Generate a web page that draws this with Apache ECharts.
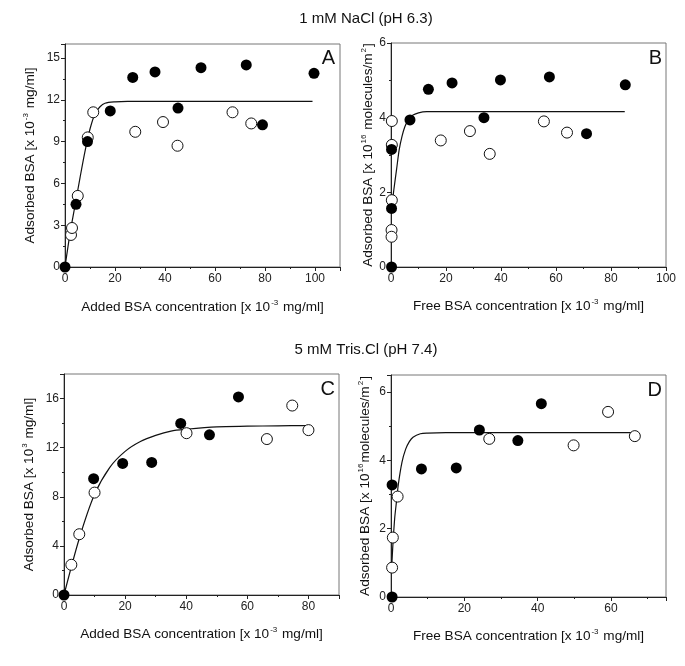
<!DOCTYPE html>
<html>
<head>
<meta charset="utf-8">
<script src="https://cdn.jsdelivr.net/npm/echarts@6/dist/echarts.min.js"></script>
<style>
html,body{margin:0;padding:0;background:#fff;}
#chart{width:685px;height:666px;}
</style>
</head>
<body>
<div id="chart"></div>
<script>
// ---- Panel A: 1 mM NaCl, adsorbed vs added BSA ----
const aFilled = [[0,0],[4.4,4.5],[9.0,9.0],[18.1,11.2],[27.1,13.6],[36.0,14.0],[45.2,11.4],[54.4,14.3],[72.5,14.5],[79,10.2],[99.6,13.9]];
const aOpen = [[2.4,2.3],[2.8,2.8],[5.1,5.1],[9.1,9.3],[11.3,11.1],[28.1,9.7],[39.2,10.4],[45.0,8.7],[67.0,11.1],[74.5,10.3]];
const aFit = [[0,0],[2,2.4],[4,4.4],[6,6.4],[8,8.3],[10,9.9],[12,11.0],[14,11.5],[16,11.75],[20,11.85],[25,11.88],[99,11.88]];
// ---- Panel B: 1 mM NaCl, adsorbed (molecules/m2) vs free BSA ----
const bFilled = [[0.2,0],[0.2,1.57],[0.2,3.15],[6.9,3.94],[13.6,4.76],[22.2,4.93],[33.8,4.0],[39.8,5.01],[57.6,5.09],[71.1,3.57],[85.2,4.88]];
const bOpen = [[0.3,3.91],[0.3,3.27],[0.3,1.79],[0.2,0.99],[0.2,0.81],[18.1,3.39],[28.7,3.64],[35.9,3.03],[55.6,3.9],[64.0,3.6]];
const bFit = [[0.5,1.75],[1,2.05],[2,2.6],[3,3.15],[4,3.5],[5,3.75],[6,3.9],[7,4.0],[8,4.07],[10,4.13],[13,4.16],[85,4.16]];
// ---- Panel C: 5 mM Tris.Cl, adsorbed vs added BSA ----
const cFilled = [[0,0],[9.7,9.47],[19.2,10.72],[28.7,10.8],[38.2,13.97],[47.6,13.05],[57.1,16.13]];
const cOpen = [[2.4,2.46],[5.0,4.95],[10.0,8.34],[40.1,13.18],[66.4,12.7],[74.7,15.43],[80.0,13.43]];
const cFit = [[0,0],[5,4.6],[10,8.2],[15,10.4],[20,11.7],[25,12.5],[30,13.0],[35,13.35],[40,13.5],[50,13.7],[60,13.75],[70,13.78],[80,13.8]];
// ---- Panel D: 5 mM Tris.Cl, adsorbed (molecules/m2) vs free BSA ----
const dFilled = [[0.3,0],[0.3,3.28],[8.3,3.75],[17.8,3.78],[24.1,4.89],[34.6,4.58],[41.0,5.66]];
const dOpen = [[0.3,0.86],[0.5,1.74],[1.8,2.94],[26.8,4.63],[49.8,4.44],[59.2,5.42],[66.5,4.71]];
const dFit = [[0.2,0.9],[0.5,1.5],[1,2.3],[1.5,2.8],[2,3.3],[3,3.95],[4,4.33],[5,4.55],[6,4.68],[8,4.78],[10,4.8],[15,4.81],[66.5,4.81]];

const titles = ['1 mM NaCl (pH 6.3)', '5 mM Tris.Cl (pH 7.4)'];
const panelLetters = ['A','B','C','D'];
const xNames = [['Added BSA concentration [x 10','-3',' mg/ml]'],['Free BSA concentration [x 10','-3',' mg/ml]'],['Added BSA concentration [x 10','-3',' mg/ml]'],['Free BSA concentration [x 10','-3',' mg/ml]']];
const yNames = [['Adsorbed BSA [x 10','-3',' mg/ml]'],['Adsorbed BSA [x 10','16',' molecules/m','2',']'],['Adsorbed BSA [x 10','3',' mg/ml]'],['Adsorbed BSA [x 10','16','molecules/m','2',']']];
const xRanges = [[0,110,20],[0,100,20],[0,90,20],[0,75,20]];
const yRanges = [[0,16,3],[0,6,2],[0,18,4],[0,6.5,2]];

const FONT = 'Liberation Sans, Arial, sans-serif';
const grids = [
  {left:65, top:44, width:275, height:223},
  {left:391, top:43, width:275, height:224},
  {left:64, top:374, width:275, height:221},
  {left:391, top:375, width:275, height:222}
];
const xNameGaps = [32, 31, 31, 31];
const yNameGaps = [27, 15, 27, 18];

function richName(parts){
  return parts.map((p,i)=> (i%2===0 ? '{n|'+p+'}' : '{s|'+p+'}')).join('');
}
const richStyle = {
  n:{fontSize:13.6, fontFamily:FONT, color:'#111', lineHeight:16},
  s:{fontSize:8, fontFamily:FONT, color:'#111', verticalAlign:'top', lineHeight:16, padding:[0,1,6,1]}
};

const xAxes = [], yAxes = [], series = [];
const dataSets = [[aFilled,aOpen,aFit],[bFilled,bOpen,bFit],[cFilled,cOpen,cFit],[dFilled,dOpen,dFit]];

for (let i=0;i<4;i++){
  const xr = xRanges[i], yr = yRanges[i];
  xAxes.push({
    type:'value', gridIndex:i, min:xr[0], max:xr[1], interval:xr[2],
    name: richName(xNames[i]), nameLocation:'middle', nameGap:xNameGaps[i],
    nameTextStyle:{rich:richStyle},
    axisLine:{show:true, onZero:false, lineStyle:{color:'#222', width:1}},
    axisTick:{show:true, length:4, lineStyle:{color:'#222'}},
    minorTick:{show:true, splitNumber:2, length:2, lineStyle:{color:'#222'}},
    splitLine:{show:false},
    axisLabel:{fontSize:12, fontFamily:FONT, color:'#222', margin:6, showMaxLabel: (xr[1] % xr[2] === 0)}
  });
  yAxes.push({
    type:'value', gridIndex:i, min:yr[0], max:yr[1], interval:yr[2],
    name: richName(yNames[i]), nameLocation:'middle', nameGap: yNameGaps[i],
    nameTextStyle:{rich:richStyle},
    axisLine:{show:true, onZero:false, lineStyle:{color:'#222', width:1}},
    axisTick:{show:true, length:4, lineStyle:{color:'#222'}},
    minorTick:{show:true, splitNumber:2, length:2, lineStyle:{color:'#222'}},
    splitLine:{show:false},
    axisLabel:{fontSize:12, fontFamily:FONT, color:'#222', margin:5, showMaxLabel: (yr[1] % yr[2] === 0)}
  });
  const [f,o,fit] = dataSets[i];
  series.push({
    type:'line', xAxisIndex:i, yAxisIndex:i, data:fit, showSymbol:false, smooth:0.3,
    lineStyle:{color:'#111', width:1.2}, z:2, silent:true
  });
  series.push({
    type:'scatter', xAxisIndex:i, yAxisIndex:i, data:o, symbol:'circle', symbolSize:11,
    itemStyle:{color:'#fff', borderColor:'#111', borderWidth:1, opacity:1}, z:3
  });
  series.push({
    type:'scatter', xAxisIndex:i, yAxisIndex:i, data:f, symbol:'circle', symbolSize:11,
    itemStyle:{color:'#000', opacity:1}, z:4
  });
}

const graphics = [
  {type:'text', x:366, y:19, style:{text:titles[0], font:'15px '+FONT, fill:'#111', textAlign:'center', textVerticalAlign:'middle'}},
  {type:'text', x:366, y:350, style:{text:titles[1], font:'15px '+FONT, fill:'#111', textAlign:'center', textVerticalAlign:'middle'}}
];
const letterPos = [[335,48],[662,48],[335,379],[662,380]];
for (let i=0;i<4;i++){
  graphics.push({type:'text', x:letterPos[i][0], y:letterPos[i][1], style:{text:panelLetters[i], font:'20px '+FONT, fill:'#111', textAlign:'right', textVerticalAlign:'top'}});
}

const chart = echarts.init(document.getElementById('chart'), null, {renderer:'canvas'});
chart.setOption({
  backgroundColor:'#fff',
  animation:false,
  grid: grids.map(g=>Object.assign({show:true, borderColor:'#777', borderWidth:1, backgroundColor:'transparent', containLabel:false}, g)),
  xAxis: xAxes,
  yAxis: yAxes,
  series: series,
  graphic: graphics
});
</script>
</body>
</html>
